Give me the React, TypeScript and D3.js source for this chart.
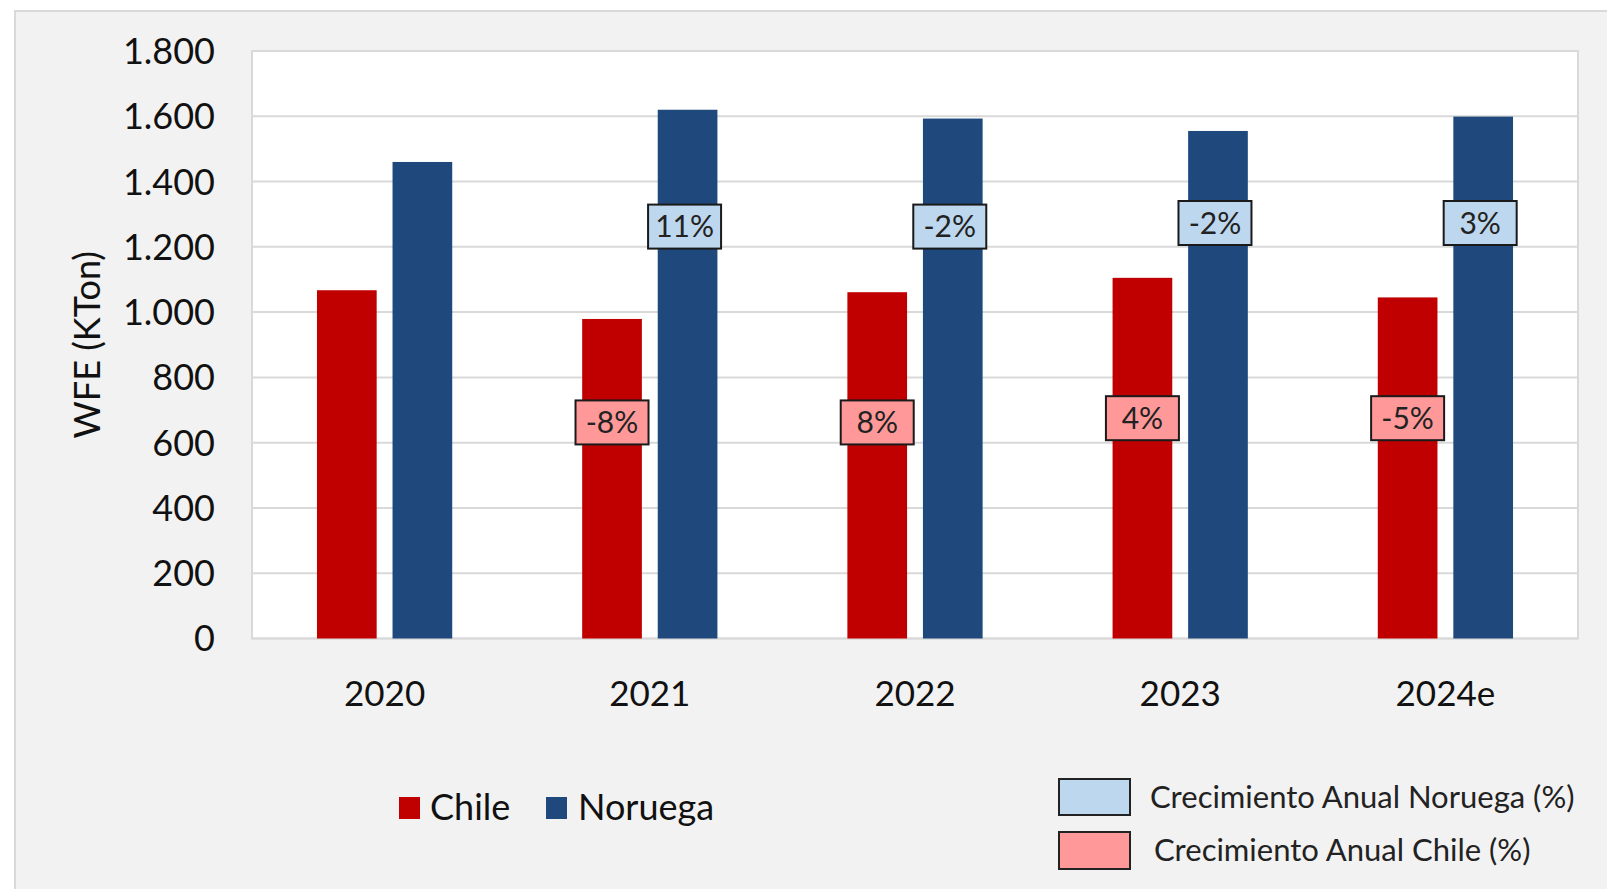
import React from "react";
import * as d3 from "d3";

const years = ["2020", "2021", "2022", "2023", "2024e"];
const series = ["Chile", "Noruega"];
const chile = [1067, 979, 1061, 1105, 1045];
const noruega = [1460, 1620, 1593, 1555, 1599];
const chileGrowth = ["", "-8%", "8%", "4%", "-5%"];
const noruegaGrowth = ["", "11%", "-2%", "-2%", "3%"];
// where the growth boxes sit, in KTon
const chileLabelAt = [0, 662, 662, 675, 675];
const noruegaLabelAt = [0, 1262, 1262, 1273, 1273];
const yTicks = [0, 200, 400, 600, 800, 1000, 1200, 1400, 1600, 1800];

const colors: Record<string, string> = { Chile: "#C00000", Noruega: "#1F497D" };
const FONT = "Lato, 'Open Sans', sans-serif";

const W = 1607;
const H = 889;
const margin = { top: 51, right: 29, bottom: 250.5, left: 252 };

const fmt = (v: number) => d3.format(",")(v).replace(/,/g, ".");

const App = () => {
  const x0 = d3.scaleBand<string>()
    .domain(years)
    .range([margin.left, W - margin.right])
    .padding(0);

  const x1 = d3.scaleBand<string>()
    .domain(series)
    .range([0, x0.bandwidth()])
    .paddingInner(0.21)
    .paddingOuter(0.86);

  const y = d3.scaleLinear()
    .domain([0, 1800])
    .range([H - margin.bottom, margin.top]);

  const boxW = 73;
  const boxH = 44;

  return (
    <div style={{ position: "fixed", left: 0, top: 0 }}>
      <svg width={W} height={H} style={{ display: "block", background: "#fff" }}>
        <rect x={15} y={11} width={W} height={H} fill="#F2F2F2" stroke="#D9D9D9" strokeWidth={2} />

        {/* plot area */}
        <rect
          x={margin.left}
          y={margin.top}
          width={W - margin.right - margin.left}
          height={H - margin.bottom - margin.top}
          fill="#fff"
          stroke="#D9D9D9"
          strokeWidth={2}
        />
        {yTicks.map(t => (
          <g key={t}>
            <line x1={margin.left} x2={W - margin.right} y1={y(t)} y2={y(t)} stroke="#D9D9D9" strokeWidth={2} />
            <text x={215} y={y(t)} dy="0.36em" textAnchor="end" fontFamily={FONT} fontSize={36} fill="#111">
              {fmt(t)}
            </text>
          </g>
        ))}

        {/* bars */}
        {years.map((yr, i) => (
          <g key={yr} transform={`translate(${x0(yr)},0)`}>
            {series.map(s => {
              const v = s === "Chile" ? chile[i] : noruega[i];
              return (
                <rect
                  key={s}
                  x={x1(s)}
                  y={y(v)}
                  width={x1.bandwidth()}
                  height={y(0) - y(v)}
                  fill={colors[s]}
                />
              );
            })}
          </g>
        ))}

        {/* growth boxes */}
        {years.map((yr, i) => {
          if (!chileGrowth[i]) return null;
          const cx = (x0(yr) as number) + (x1("Chile") as number) + x1.bandwidth() / 2;
          const nx = (x0(yr) as number) + (x1("Noruega") as number) + x1.bandwidth() / 2 - 3;
          const cy = y(chileLabelAt[i]);
          const ny = y(noruegaLabelAt[i]);
          return (
            <g key={yr} fontFamily={FONT} fontSize={30} fill="#222">
              <rect x={cx - boxW / 2} y={cy - boxH / 2} width={boxW} height={boxH} fill="#FF9999" stroke="#1a1a1a" strokeWidth={2} />
              <text x={cx} y={cy} dy="0.36em" textAnchor="middle">{chileGrowth[i]}</text>
              <rect x={nx - boxW / 2} y={ny - boxH / 2} width={boxW} height={boxH} fill="#BDD7EE" stroke="#1a1a1a" strokeWidth={2} />
              <text x={nx} y={ny} dy="0.36em" textAnchor="middle">{noruegaGrowth[i]}</text>
            </g>
          );
        })}

        {/* x axis labels */}
        {years.map(yr => (
          <text
            key={yr}
            x={(x0(yr) as number) + x0.bandwidth() / 2}
            y={706}
            textAnchor="middle"
            fontFamily={FONT}
            fontSize={35}
            fill="#111"
          >
            {yr}
          </text>
        ))}

        {/* y axis title */}
        <text
          transform={`translate(100,${(margin.top + H - margin.bottom) / 2}) rotate(-90)`}
          textAnchor="middle"
          fontFamily={FONT}
          fontSize={36}
          fill="#111"
        >
          WFE (KTon)
        </text>

        {/* series legend */}
        <g fontFamily={FONT} fontSize={36} fill="#111">
          <rect x={399} y={797} width={21} height={22} fill={colors.Chile} />
          <text x={430} y={820}>Chile</text>
          <rect x={546} y={797} width={21} height={22} fill={colors.Noruega} />
          <text x={578} y={820}>Noruega</text>
        </g>

        {/* growth legend */}
        <g fontFamily={FONT} fontSize={31} fill="#222">
          <rect x={1059} y={779} width={71} height={36} fill="#BDD7EE" stroke="#222" strokeWidth={2} />
          <text x={1150} y={808}>Crecimiento Anual Noruega (%)</text>
          <rect x={1059} y={832} width={71} height={37} fill="#FF9999" stroke="#222" strokeWidth={2} />
          <text x={1154} y={861}>Crecimiento Anual Chile (%)</text>
        </g>
      </svg>
    </div>
  );
};

export default App;
